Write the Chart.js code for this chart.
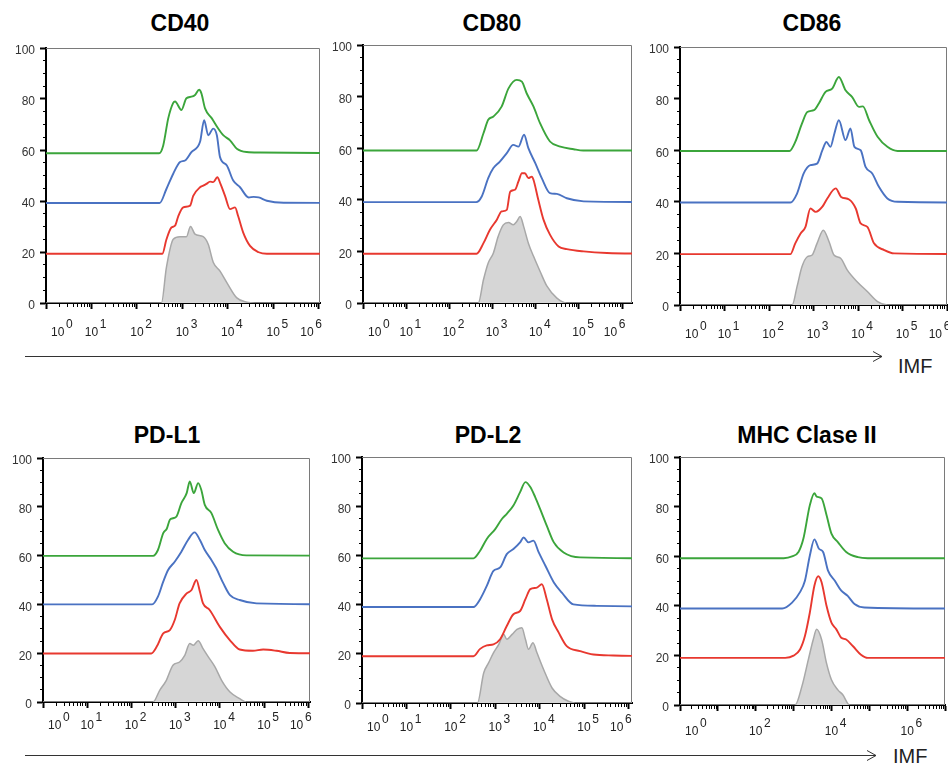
<!DOCTYPE html>
<html><head><meta charset="utf-8">
<script src="https://cdn.jsdelivr.net/npm/chart.js@4.4.1/dist/chart.umd.min.js"></script>
<style>
html,body{margin:0;padding:0;background:#fff;}
body{width:948px;height:768px;position:relative;overflow:hidden;font-family:"Liberation Sans",Arial,sans-serif;}
canvas{position:absolute;}
.title{position:absolute;width:300px;text-align:center;font-weight:bold;font-size:23px;line-height:24px;color:#000;}
.imf{position:absolute;font-size:20px;line-height:20px;color:#222;}
svg{position:absolute;left:0;top:0;}
</style></head><body>
<svg width="948" height="768">
 <g stroke="#333" stroke-width="1" fill="none">
  <line x1="25" y1="356.5" x2="882" y2="356.5"/>
  <polyline points="873,351.5 882,356.5 873,361.5"/>
  <line x1="25" y1="755.5" x2="876" y2="755.5"/>
  <polyline points="867,750.5 876,755.5 867,760.5"/>
 </g>
</svg>
<div class="imf" style="left:898px;top:356px;">IMF</div>
<div class="imf" style="left:893px;top:746px;">IMF</div>
<script>
// ---- data (x as log10 of fluorescence, y as plotted % of max) ----
const panelTitles = ['CD40', 'CD80', 'CD86', 'PD-L1', 'PD-L2', 'MHC Clase II'];
const seriesNames = ['Green', 'Blue', 'Red', 'Control'];
const yTickValues = [0, 20, 40, 60, 80, 100];
const decadesStd = [0, 1, 2, 3, 4, 5, 6];
const decadesMHC = [0, 2, 4, 6];

const cd40Gray = [[0,0],[2.54,0],[2.65,14],[2.80,25],[2.95,26],[3.09,26],[3.18,30],[3.28,27],[3.46,26],[3.57,23],[3.68,16],[3.83,12.5],[3.98,8],[4.2,2],[4.42,0.3],[4.6,0],[7,0]];
const cd40Red = [[0,19.3],[2.56,19.3],[2.65,24.9],[2.76,29.6],[2.84,30.3],[2.91,34],[3.02,37.5],[3.17,38.2],[3.24,42],[3.39,45.4],[3.46,46],[3.53,46.7],[3.61,47.6],[3.68,47.4],[3.77,49.3],[3.84,46.7],[3.94,42],[4.05,36.8],[4.16,37.5],[4.23,34],[4.34,27.6],[4.49,22.4],[4.68,19.9],[4.86,19.3],[7,19.3]];
const cd40Blue = [[0,39.2],[2.50,39.2],[2.65,44.7],[2.80,50.7],[2.95,55.3],[3.06,55.9],[3.20,59.2],[3.39,63.2],[3.48,71.7],[3.57,65.8],[3.68,68.4],[3.76,65.8],[3.83,57.2],[3.98,53.9],[4.12,48],[4.27,45.4],[4.46,41.4],[4.57,41.6],[4.68,41.4],[4.86,40.1],[5.23,39.3],[7,39.2]];
const cd40Green = [[0,58.7],[2.49,58.7],[2.58,61.8],[2.69,72.4],[2.80,78.5],[2.84,79],[2.98,75.7],[3.09,80.3],[3.20,80.9],[3.28,81.6],[3.37,83.6],[3.42,82.2],[3.50,76.3],[3.65,72.4],[3.79,68.4],[3.90,65.8],[4.05,63.8],[4.20,60.5],[4.42,59.2],[4.71,59],[7,58.7]];

const cd80Gray = [[0,0],[2.67,0],[2.79,9],[2.90,15.5],[3.02,19.4],[3.13,25.8],[3.25,30.3],[3.37,31.2],[3.48,30.3],[3.56,31.6],[3.64,33.5],[3.72,29.7],[3.83,23.2],[3.95,18.1],[4.10,12.3],[4.26,6.5],[4.49,1.9],[4.72,0],[7,0]];
const cd80Red = [[0,19.1],[2.63,19.1],[2.79,23.2],[2.94,28.4],[3.10,32.3],[3.21,35.5],[3.33,36.1],[3.41,43.2],[3.52,43.9],[3.60,47.1],[3.68,50.3],[3.75,50.3],[3.83,48.4],[3.91,49],[3.95,47.7],[4.06,40],[4.18,32.3],[4.33,26.5],[4.53,21.9],[4.72,20.9],[5.11,20],[5.65,19.4],[7,19.1]];
const cd80Blue = [[0,39.1],[2.62,39.1],[2.75,41.3],[2.90,48.4],[3.02,52.3],[3.17,54.8],[3.33,58.1],[3.48,61.3],[3.60,60.6],[3.73,65.2],[3.83,60],[3.99,54.2],[4.14,48.4],[4.33,42.6],[4.49,42.3],[4.72,40.6],[5.11,39.4],[7,39.1]];
const cd80Green = [[0,59.1],[2.63,59.1],[2.79,65.8],[2.90,71],[3.02,72.3],[3.21,76.1],[3.37,83.2],[3.56,86.5],[3.68,85.8],[3.79,81.3],[3.95,76.1],[4.10,69.7],[4.33,62.6],[4.57,60.6],[4.88,59.6],[5.1,59.1],[7,59.1]];

const cd86Gray = [[0,0],[2.52,0],[2.63,7.1],[2.74,14.8],[2.86,18.7],[2.97,19.4],[3.08,23.9],[3.22,29],[3.35,24.5],[3.46,19.4],[3.61,18.1],[3.76,13.5],[3.98,9],[4.21,5.2],[4.44,1.3],[4.66,0],[7,0]];
const cd86Red = [[0,19.7],[2.48,19.7],[2.59,23.9],[2.71,27.7],[2.82,30.3],[2.93,37.4],[3.05,36.1],[3.20,38.1],[3.31,41.3],[3.50,45.2],[3.62,41.9],[3.80,40.9],[3.95,37.4],[4.06,31.6],[4.21,30.3],[4.36,23.9],[4.59,21.3],[4.81,20],[7,19.7]];
const cd86Blue = [[0,39.7],[2.48,39.7],[2.63,43.2],[2.78,51],[2.93,54.2],[3.08,54.8],[3.20,60],[3.29,63.2],[3.38,61.3],[3.47,66.5],[3.57,71.6],[3.72,63.9],[3.83,68.4],[3.92,61.3],[4.06,60],[4.17,53.5],[4.32,51],[4.47,45.8],[4.66,41.3],[4.89,40],[7,39.7]];
const cd86Green = [[0,59.7],[2.46,59.7],[2.59,63.2],[2.74,70.3],[2.86,74.8],[3.01,75.5],[3.12,78.1],[3.27,82.6],[3.42,83.9],[3.57,88.4],[3.72,83.2],[3.87,80.6],[4.02,76.8],[4.11,77],[4.25,71.6],[4.44,65.2],[4.66,61.3],[4.89,59.7],[7,59.7]];

const pdl1Gray = [[0,0],[2.49,0],[2.64,4.8],[2.79,8.9],[2.94,15.1],[3.09,16.4],[3.21,19.2],[3.32,24],[3.40,23.3],[3.51,25.1],[3.62,21.9],[3.74,18.5],[3.89,14.4],[4.04,8.9],[4.23,4.1],[4.45,1.4],[4.6,0],[7,0]];
const pdl1Red = [[0,19.9],[2.45,19.9],[2.57,22.6],[2.72,28.1],[2.87,29.5],[2.98,33.6],[3.09,40.4],[3.25,44.5],[3.36,45.9],[3.47,50],[3.55,45.2],[3.62,40.4],[3.77,37.7],[4.0,30.8],[4.23,25.3],[4.45,21.5],[4.75,21.0],[4.98,21.5],[5.28,21],[5.58,20.1],[7,19.9]];
const pdl1Blue = [[0,40],[2.47,40],[2.60,43.2],[2.72,49.3],[2.83,54.1],[2.98,57.5],[3.13,61.6],[3.28,66.4],[3.43,69.5],[3.55,66.4],[3.66,62.3],[3.81,58.2],[3.92,54.8],[4.08,48.6],[4.23,43.8],[4.45,41.8],[4.83,40.4],[7,40]];
const pdl1Green = [[0,59.9],[2.49,59.9],[2.60,62.3],[2.72,69.2],[2.80,71],[2.87,74.7],[2.94,75.3],[3.02,76],[3.13,81.5],[3.25,85.6],[3.32,90.4],[3.41,85.6],[3.51,89.7],[3.58,87],[3.66,80.8],[3.81,77.4],[3.96,70.5],[4.11,65.1],[4.30,61.6],[4.60,60.1],[7,59.9]];

const pdl2Gray = [[0,0],[2.60,0],[2.74,12.2],[2.85,16.3],[2.96,20.4],[3.08,23.8],[3.19,27.9],[3.26,25.9],[3.38,27.9],[3.49,29.9],[3.60,30.6],[3.68,25.9],[3.75,21.8],[3.85,24.5],[3.94,20.4],[4.09,13.6],[4.28,6.1],[4.46,2.7],[4.65,0.7],[4.8,0],[7,0]];
const pdl2Red = [[0,19],[2.51,19],[2.66,22],[2.81,23.4],[2.96,23.8],[3.11,25.9],[3.26,31.3],[3.41,36.1],[3.56,37.4],[3.68,42.2],[3.79,46.3],[3.94,46.9],[4.05,48.3],[4.16,42.2],[4.28,34],[4.43,28.6],[4.61,23.1],[4.91,21.1],[5.21,19.7],[5.66,19.3],[7,19]];
const pdl2Blue = [[0,39],[2.51,39],[2.66,42.2],[2.81,47.6],[2.96,53.7],[3.11,55.1],[3.26,60.5],[3.41,62.6],[3.56,65.3],[3.64,67.3],[3.75,65.3],[3.86,66],[3.98,61.2],[4.13,55.8],[4.32,49],[4.50,44.9],[4.76,40.1],[5.29,39.5],[7,39]];
const pdl2Green = [[0,58.8],[2.51,58.8],[2.66,61.9],[2.81,66.7],[3.0,70.7],[3.15,74.8],[3.26,76.9],[3.41,80.3],[3.56,85.7],[3.68,89.8],[3.79,87.8],[3.90,83.7],[4.01,78.9],[4.16,72.1],[4.32,65.3],[4.54,61.2],[4.91,59.2],[7,58.8]];

const mhcGray = [[0,0],[3.04,0],[3.22,7.5],[3.39,18.3],[3.52,26.4],[3.61,30.5],[3.74,26.4],[3.87,16.9],[4.0,10.2],[4.17,6.1],[4.30,4.1],[4.48,0],[7,0]];
const mhcRed = [[0,19],[2.78,19],[3.0,19.9],[3.17,22.4],[3.30,27.8],[3.43,37.3],[3.55,48.1],[3.65,51.9],[3.74,49.5],[3.87,40],[4.0,33.2],[4.13,30.5],[4.26,27.1],[4.39,26.4],[4.57,23.7],[4.78,20.3],[4.96,19],[7,19]];
const mhcBlue = [[0,38.9],[2.70,38.9],[2.96,41.3],[3.17,45.5],[3.30,50.1],[3.43,60.3],[3.55,66.8],[3.67,63],[3.78,61.7],[3.91,54.2],[4.09,50.1],[4.26,46.1],[4.43,44],[4.61,40.7],[4.87,39.3],[7,38.9]];
const mhcGreen = [[0,59.2],[2.74,59.2],[2.96,59.9],[3.13,61.7],[3.26,67.1],[3.43,80.6],[3.55,85.4],[3.61,84],[3.74,83.3],[3.87,76.6],[4.0,69.1],[4.17,65.7],[4.39,61.7],[4.70,59.6],[4.96,59.2],[7,59.2]];

const panelSeries = [
  [cd40Green, cd40Blue, cd40Red, cd40Gray],
  [cd80Green, cd80Blue, cd80Red, cd80Gray],
  [cd86Green, cd86Blue, cd86Red, cd86Gray],
  [pdl1Green, pdl1Blue, pdl1Red, pdl1Gray],
  [pdl2Green, pdl2Blue, pdl2Red, pdl2Gray],
  [mhcGreen, mhcBlue, mhcRed, mhcGray]
];
const panelDecades = [decadesStd, decadesStd, decadesStd, decadesStd, decadesStd, decadesMHC];
const panelMaxExp = [6.03, 6.23, 6.0, 6.04, 6.08, 7.0];

// ---- layout / styles ----
const geom = [
  {L:46, R:320, T:48, B:303, pad:11, cx:180, ty:11, shiftLast:true},
  {L:363, R:632, T:45, B:303, pad:11, cx:492, ty:11, shiftLast:true},
  {L:680, R:947, T:47, B:305, pad:11, cx:812, ty:11, shiftLast:true},
  {L:43, R:310, T:458, B:702, pad:5, cx:167, ty:423, shiftLast:true},
  {L:362, R:632, T:457, B:703, pad:6, cx:488, ty:423, shiftLast:true},
  {L:680, R:945, T:457, B:705, pad:8, cx:807, ty:423, shiftLast:false}
];
const lineColors = ['#3ba53b', '#4a72c2', '#e8382f', '#a8a8a8'];
const FONT = 'Liberation Sans';
const PADL = 50, PADR = 14, PADT = 12, XH = 48;

const framePlugin = {
  id: 'frame',
  beforeDatasetsDraw(chart) {
    const {ctx, chartArea: a} = chart;
    ctx.save();
    ctx.strokeStyle = '#7a7a7a';
    ctx.lineWidth = 1;
    ctx.beginPath();
    ctx.moveTo(a.left, a.top + 0.5);
    ctx.lineTo(a.right - 0.5, a.top + 0.5);
    ctx.lineTo(a.right - 0.5, a.bottom);
    ctx.stroke();
    ctx.restore();
  }
};

function tickLines(exp, where) {
  const sp = n => ' '.repeat(n);
  let sup = sp(7) + exp, base = '10';
  if (where === 'first') { sup = sp(7) + sup; base = sp(7) + base; }
  if (where === 'last') { sup = sup + sp(7); base = base + sp(7); }
  return [sup, base];
}

panelTitles.forEach((title, i) => {
  const g = geom[i];
  const d = document.createElement('div');
  d.className = 'title';
  d.textContent = title;
  d.style.left = (g.cx - 150) + 'px';
  d.style.top = g.ty + 'px';
  document.body.appendChild(d);

  const cv = document.createElement('canvas');
  const W = (g.R - g.L) + PADL + PADR;
  const H = (g.B - g.T) + PADT + XH;
  cv.width = W; cv.height = H;
  cv.style.width = W + 'px'; cv.style.height = H + 'px';
  cv.style.left = (g.L - PADL) + 'px';
  cv.style.top = (g.T - PADT) + 'px';
  document.body.appendChild(cv);

  const decades = panelDecades[i];
  const maxExp = panelMaxExp[i];
  const datasets = panelSeries[i].map((pts, k) => ({
    label: seriesNames[k],
    data: pts.map(p => ({x: Math.pow(10, p[0]), y: p[1]})),
    borderColor: lineColors[k],
    borderWidth: k === 3 ? 1.5 : 1.9,
    backgroundColor: k === 3 ? '#d6d6d6' : 'transparent',
    fill: k === 3 ? 'origin' : false,
    pointRadius: 0,
    cubicInterpolationMode: 'monotone'
  }));

  new Chart(cv, {
    type: 'line',
    data: {datasets},
    plugins: [framePlugin],
    options: {
      responsive: false,
      animation: false,
      devicePixelRatio: 1,
      layout: {padding: {left: 0, right: PADR, top: PADT, bottom: 0}},
      plugins: {legend: {display: false}, tooltip: {enabled: false}},
      scales: {
        x: {
          type: 'logarithmic',
          min: 1,
          max: Math.pow(10, maxExp),
          afterBuildTicks: s => {
            const t = [];
            for (let e = 0; e <= Math.ceil(maxExp); e++) {
              for (let k = 1; k <= 9; k++) {
                const v = k * Math.pow(10, e);
                if (v <= Math.pow(10, maxExp) * 1.0001) t.push({value: v, major: k === 1, e: e, k: k});
              }
            }
            s.ticks = t;
          },
          afterFit: s => { s.height = XH; s.paddingLeft = 0; s.paddingRight = 0; },
          ticks: {
            autoSkip: false, maxRotation: 0, minRotation: 0,
            padding: g.pad, color: '#222',
            font: {family: FONT, size: 12, lineHeight: 0.7},
            callback: (v, idx, ticks) => {
              const t = ticks[idx];
              if (!t || t.k !== 1 || decades.indexOf(t.e) < 0) return '';
              let where = '';
              if (t.e === decades[0]) where = 'first';
              if (g.shiftLast && t.e === decades[decades.length - 1]) where = 'last';
              return tickLines(t.e, where);
            }
          },
          grid: {
            drawOnChartArea: false, drawTicks: true, tickLength: 6, tickColor: '#000',
            tickWidth: c => (c.tick && c.tick.major) ? 2 : 1,
            tickBorderDash: c => (c.tick && c.tick.major) ? [] : [3, 30]
          },
          border: {display: true, color: '#000', width: 2}
        },
        y: {
          min: 0, max: 100,
          afterFit: s => { s.width = PADL; s.paddingTop = 0; s.paddingBottom = 0; },
          ticks: {
            stepSize: 5, autoSkip: false, padding: 5, labelOffset: 3,
            color: '#333', font: {family: FONT, size: 12},
            callback: v => yTickValues.indexOf(v) >= 0 ? String(v) : ''
          },
          grid: {
            drawOnChartArea: false, tickLength: 6, tickColor: '#000',
            tickWidth: c => (c.tick && yTickValues.indexOf(c.tick.value) >= 0) ? 2 : 1,
            tickBorderDash: c => (c.tick && yTickValues.indexOf(c.tick.value) >= 0) ? [] : [0, 3, 3, 30]
          },
          border: {display: true, color: '#000', width: 2}
        }
      }
    }
  });
});
</script>
</body></html>
